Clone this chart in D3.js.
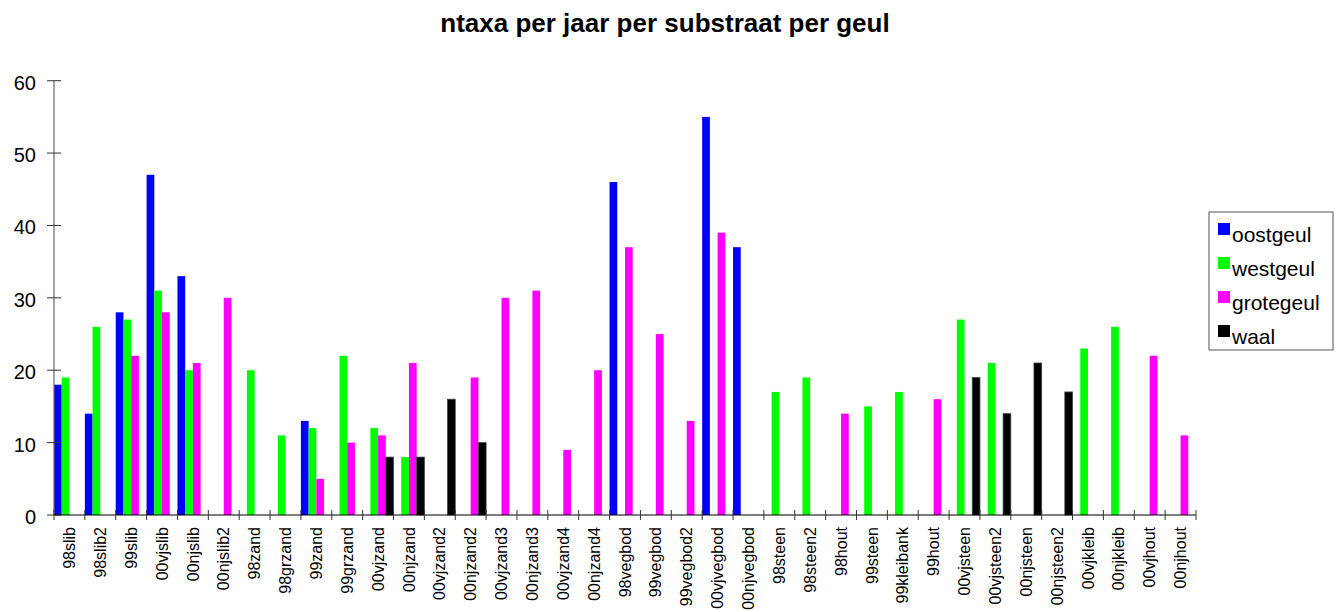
<!DOCTYPE html>
<html>
<head>
<meta charset="utf-8">
<script src="https://cdn.jsdelivr.net/npm/d3@7"></script>
<style>
  html, body { margin: 0; padding: 0; background: #fff; }
  svg { display: block; font-family: "Liberation Sans", Arial, sans-serif; }
</style>
</head>
<body>
<svg id="chart" width="1337" height="612"></svg>
<script>
const categories = ["98slib","98slib2","99slib","00vjslib","00njslib","00njslib2","98zand","98grzand","99zand","99grzand","00vjzand","00njzand","00vjzand2","00njzand2","00vjzand3","00njzand3","00vjzand4","00njzand4","98vegbod","99vegbod","99vegbod2","00vjvegbod","00njvegbod","98steen","98steen2","98hout","99steen","99kleibank","99hout","00vjsteen","00vjsteen2","00njsteen","00njsteen2","00vjkleib","00njkleib","00vjhout","00njhout"];
const seriesNames = ["oostgeul","westgeul","grotegeul","waal"];
const oostgeul  = [18,14,28,47,33,0,0,0,13,0,0,0,0,0,0,0,0,0,46,0,0,55,37,0,0,0,0,0,0,0,0,0,0,0,0,0,0];
const westgeul  = [19,26,27,31,20,0,20,11,12,22,12,8,0,0,0,0,0,0,0,0,0,0,0,17,19,0,15,17,0,27,21,0,0,23,26,0,0];
const grotegeul = [0,0,22,28,21,30,0,0,5,10,11,21,0,19,30,31,9,20,37,25,13,39,0,0,0,14,0,0,16,0,0,0,0,0,0,22,11];
const waal      = [0,0,0,0,0,0,0,0,0,0,8,8,16,10,0,0,0,0,0,0,0,0,0,0,0,0,0,0,0,19,14,21,17,0,0,0,0];
const yTicks = [0,10,20,30,40,50,60];
const title = "ntaxa per jaar per substraat per geul";

const seriesValues = [oostgeul, westgeul, grotegeul, waal];
const colors = ["#0000ff","#00ff00","#ff00ff","#000000"];

const svg = d3.select("#chart");
const x0 = d3.scaleBand().domain(categories).range([54, 1196]).padding(0);
const x1 = d3.scaleBand().domain(seriesNames).range([0, x0.bandwidth()]).padding(0);
const y = d3.scaleLinear().domain([0, 60]).range([515, 80.7]);

// title
svg.append("text").attr("x", 665).attr("y", 32).attr("text-anchor", "middle")
  .attr("font-size", 26).attr("font-weight", "bold").attr("fill", "#000").text(title);

// bars
const rows = [];
seriesNames.forEach((s, si) => {
  categories.forEach((c, ci) => {
    const v = seriesValues[si][ci];
    if (v > 0) rows.push({s, si, c, v});
  });
});
svg.append("g").selectAll("rect").data(rows).join("rect")
  .attr("x", d => x0(d.c) + x1(d.s))
  .attr("width", x1.bandwidth())
  .attr("y", d => y(d.v))
  .attr("height", d => y(0) - y(d.v))
  .attr("fill", d => colors[d.si])
  .attr("stroke", d => d.si === 3 ? "#444" : "none")
  .attr("stroke-width", d => d.si === 3 ? 0.8 : 0);

// y axis
const ya = svg.append("g");
ya.append("line").attr("x1", 54).attr("x2", 54).attr("y1", y(60)).attr("y2", y(0))
  .attr("stroke", "#666").attr("stroke-width", 1.2);
ya.selectAll("line.t").data(yTicks).join("line").attr("class", "t")
  .attr("x1", 47).attr("x2", 61).attr("y1", d => y(d)).attr("y2", d => y(d))
  .attr("stroke", "#333").attr("stroke-width", 1);
ya.selectAll("text").data(yTicks).join("text")
  .attr("x", 36).attr("y", d => y(d)).attr("dy", "0.45em")
  .attr("text-anchor", "end").attr("font-size", 20).attr("fill", "#000")
  .text(d => d);

// x axis
const xa = svg.append("g");
xa.append("line").attr("x1", 54).attr("x2", 1196).attr("y1", 515).attr("y2", 515)
  .attr("stroke", "#000").attr("stroke-width", 1.2);
const bounds = categories.map(c => x0(c)).concat([x0.range()[1]]);
xa.selectAll("line.t").data(bounds).join("line").attr("class", "t")
  .attr("x1", d => d).attr("x2", d => d).attr("y1", 510).attr("y2", 520)
  .attr("stroke", "#333").attr("stroke-width", 1);
xa.selectAll("text").data(categories).join("text")
  .attr("transform", d => `translate(${x0(d) + x0.bandwidth() / 2},527) rotate(-90)`)
  .attr("dy", "0.35em").attr("text-anchor", "end").attr("font-size", 16).attr("fill", "#000")
  .text(d => d);

// legend
const lg = svg.append("g");
lg.append("rect").attr("x", 1209).attr("y", 212).attr("width", 124).attr("height", 138)
  .attr("fill", "#fff").attr("stroke", "#555").attr("stroke-width", 1);
const li = lg.selectAll("g").data(seriesNames).join("g")
  .attr("transform", (d, i) => `translate(1218,${223 + i * 34})`);
li.append("rect").attr("width", 12).attr("height", 12).attr("fill", (d, i) => colors[i]);
li.append("text").attr("x", 14).attr("y", 19).attr("font-size", 21).attr("fill", "#000").text(d => d);
</script>
</body>
</html>
